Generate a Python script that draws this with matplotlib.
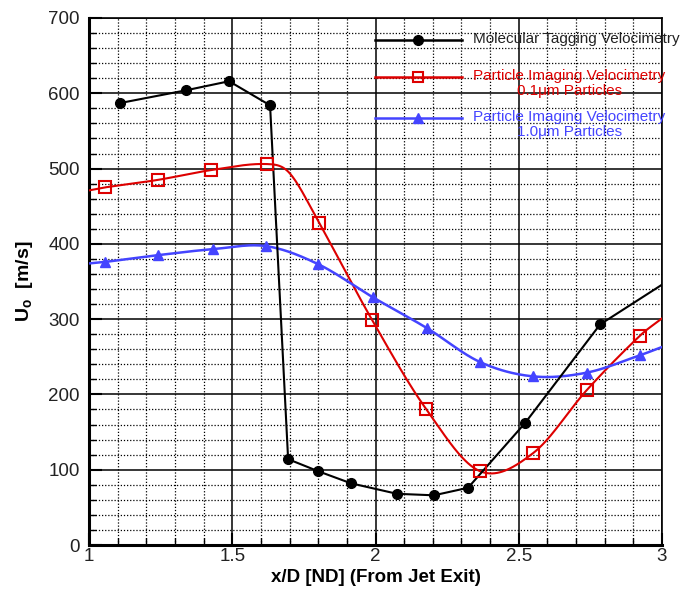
import numpy as np
import matplotlib
matplotlib.use("Agg")
import matplotlib.pyplot as plt
from matplotlib.ticker import MultipleLocator

plt.rcParams['font.family'] = ['Liberation Sans', 'DejaVu Sans']
plt.rcParams['mathtext.default'] = 'regular'

# ---- data ----
# Molecular Tagging Velocimetry (last point lies just beyond the axis)
mtv_x = [1.108, 1.339, 1.489, 1.632, 1.695, 1.800, 1.914, 2.075, 2.204, 2.323, 2.522, 2.784, 3.05]
mtv_y = [587, 604, 616, 584, 114, 98, 82, 68, 66, 76, 162, 293, 358]

# PIV 0.1 um particles (curve knots; markers at listed indices)
piv01_x = [1.000, 1.056, 1.241, 1.426, 1.621, 1.700, 1.803, 1.988, 2.176, 2.365, 2.550, 2.738, 2.923, 3.000]
piv01_y = [471, 475, 485, 498, 506, 494, 428, 299, 181, 98, 122, 206, 278, 301]
piv01_marked = [1, 2, 3, 4, 6, 7, 8, 9, 10, 11, 12]

# PIV 1.0 um particles
piv10_x = [1.000, 1.056, 1.241, 1.433, 1.618, 1.800, 1.991, 2.180, 2.365, 2.550, 2.738, 2.923, 3.000]
piv10_y = [374, 376, 385, 393, 397, 373, 329, 288, 243, 224, 229, 252, 263]
piv10_marked = [1, 2, 3, 4, 5, 6, 7, 8, 9, 10, 11]

x_ticks = [1, 1.5, 2, 2.5, 3]
x_ticklabels = ['1', '1.5', '2', '2.5', '3']
y_ticks = [0, 100, 200, 300, 400, 500, 600, 700]

legend_labels = ['Molecular Tagging Velocimetry',
                 'Particle Imaging Velocimetry\n0.1\u03bcm Particles',
                 'Particle Imaging Velocimetry\n1.0\u03bcm Particles']


def smooth(x, y, n=40):
    x = np.asarray(x, float); y = np.asarray(y, float)
    m = np.empty_like(y)
    m[1:-1] = (y[2:] - y[:-2]) / (x[2:] - x[:-2])
    m[0] = (y[1] - y[0]) / (x[1] - x[0])
    m[-1] = (y[-1] - y[-2]) / (x[-1] - x[-2])
    xs, ys = [], []
    for i in range(len(x) - 1):
        h = x[i + 1] - x[i]
        t = np.linspace(0, 1, n, endpoint=False)
        h00 = 2 * t**3 - 3 * t**2 + 1
        h10 = t**3 - 2 * t**2 + t
        h01 = -2 * t**3 + 3 * t**2
        h11 = t**3 - t**2
        xs.append(x[i] + t * h)
        ys.append(h00 * y[i] + h10 * h * m[i] + h01 * y[i + 1] + h11 * h * m[i + 1])
    xs.append([x[-1]]); ys.append([y[-1]])
    return np.concatenate(xs), np.concatenate(ys)


fig = plt.figure(figsize=(6.86, 5.90), dpi=100)
ax = fig.add_axes([89 / 686, 1 - 545 / 590, 573 / 686, 527 / 590])

red = '#dd0000'
blue = '#4444ff'

# grid
ax.xaxis.set_minor_locator(MultipleLocator(0.1))
ax.yaxis.set_minor_locator(MultipleLocator(20))
ax.grid(which='major', color='black', lw=1.1, ls='-', zorder=0)
ax.grid(which='minor', color='black', lw=0.9, ls=(0, (1, 1.5)), zorder=0)
ax.set_axisbelow(True)

# curves
ax.plot(mtv_x, mtv_y, color='black', lw=1.5, marker='o', ms=7, mfc='black', mec='black', zorder=4)

sx, sy = smooth(piv01_x, piv01_y)
ax.plot(sx, sy, color=red, lw=1.5, zorder=3)
ax.plot([piv01_x[i] for i in piv01_marked], [piv01_y[i] for i in piv01_marked], ls='none',
        marker='s', ms=8, mfc='none', mec=red, mew=1.5, zorder=5)

sx, sy = smooth(piv10_x, piv10_y)
ax.plot(sx, sy, color=blue, lw=1.8, zorder=3)
ax.plot([piv10_x[i] for i in piv10_marked], [piv10_y[i] for i in piv10_marked], ls='none',
        marker='^', ms=7, mfc=blue, mec=blue, zorder=5)

ax.set_xlim(1, 3)
ax.set_ylim(0, 700)
ax.set_xticks(x_ticks)
ax.set_xticklabels(x_ticklabels)
ax.set_yticks(y_ticks)

ax.spines['left'].set_linewidth(2.2)
ax.spines['bottom'].set_linewidth(2.2)
ax.spines['top'].set_linewidth(1.2)
ax.spines['right'].set_linewidth(1.2)
ax.tick_params(which='both', direction='in', top=False, right=False, colors='black',
               labelcolor='#222222', labelsize=13.5)
ax.tick_params(which='major', length=9, width=1.5)
ax.tick_params(which='minor', length=5, width=1)
ax.tick_params(axis='x', pad=2)
ax.tick_params(axis='y', pad=6.5)

ax.set_xlabel('x/D [ND] (From Jet Exit)', fontsize=13.5, fontweight='bold', labelpad=3)
ax.set_ylabel('U$_o$  [m/s]', fontsize=14, fontweight='bold', labelpad=10)

# legend (manual, as in Tecplot)
colors = ['#222222', red, blue]
line_colors = ['black', red, blue]
styles = [dict(marker='o', mfc='black', mec='black', ms=7),
          dict(marker='s', mfc='none', mec=red, mew=1.5, ms=7),
          dict(marker='^', mfc=blue, mec=blue, ms=7)]
ly = [40, 77, 118]
for lab, c, lc, st, yy in zip(legend_labels, colors, line_colors, styles, ly):
    fy = 1 - yy / 590
    fig.add_artist(plt.Line2D([375 / 686, 462 / 686], [fy, fy], color=lc, lw=1.8, transform=fig.transFigure))
    fig.add_artist(plt.Line2D([418 / 686], [fy], color=lc, lw=0, transform=fig.transFigure, **st))
    fig.text(473 / 686, fy + 0.013, lab, color=c, fontsize=11, ha='left', va='top',
             multialignment='center', linespacing=1.05)

fig.savefig('out.png', dpi=100)
